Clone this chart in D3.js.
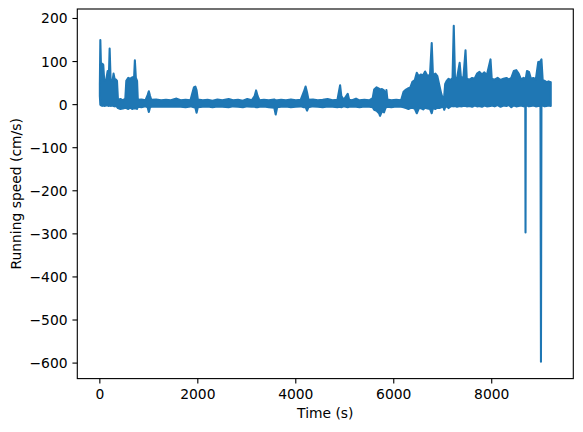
<!DOCTYPE html>
<html><head><meta charset="utf-8">
<script src="https://cdn.jsdelivr.net/npm/d3@7"></script>
<style>
body{margin:0;background:#fff}
svg{display:block}
text{font-family:"DejaVu Sans",sans-serif;font-size:13.89px;fill:#000}
</style>
</head><body>
<svg id="c" width="583" height="432"></svg>
<script>
// Min/max envelope of the running-speed trace
const time = [0,10,30,50,70,90,130,160,185,200,220,260,280,300,330,350,
  370,420,470,520,540,580,620,660,700,715,735,760,775,850,930,975,1000,1025,1050,
  1150,1250,1350,1450,1565,1650,1750,1850,1885,1920,1950,1975,2000,2100,2200,2300,
  2400,2500,2630,2720,2820,2920,3010,3100,3160,3190,3220,3260,3350,3450,3560,3590,
  3620,3700,3800,3900,4000,4100,4165,4200,4230,4260,4350,4450,4550,4650,4750,4850,
  4905,4930,4980,5060,5090,5150,5230,5300,5400,5500,5570,5600,5650,5700,5720,5760,
  5800,5830,5850,5870,5950,6050,6150,6200,6250,6300,6340,6380,6430,6470,6510,6550,
  6600,6640,6690,6740,6775,6800,6850,6890,6930,6970,7010,7030,7050,7080,7120,7160,
  7200,7225,7250,7290,7345,7370,7420,7465,7490,7550,7600,7650,7700,7750,7800,7850,
  7900,7975,8000,8060,8120,8180,8240,8300,8350,8400,8450,8500,8550,8600,8650,8685,
  8690,8695,8720,8760,8800,8850,8900,8950,8995,9005,9015,9040,9080,9120,9160,9205];
const upper = [45,150,60,95,92,55,58,78,70,130,57,56,72,60,58,55,
  11,13,10,14,55,62,60,63,65,103,62,55,11,12,10,22,31,20,11,
  12,10,11,10,14,10,11,10,25,40,42,33,12,10,11,9,
  12,10,13,10,11,9,13,10,20,33,20,10,11,10,12,10,
  10,11,10,12,10,11,30,42,28,11,12,10,11,13,10,11,
  45,20,11,25,11,10,14,10,11,10,15,35,40,37,35,36,
  33,15,34,12,10,11,10,30,35,38,40,53,57,74,66,70,
  68,77,66,70,143,68,72,66,45,25,11,20,48,55,60,57,
  62,183,62,60,97,65,60,126,60,58,62,60,72,76,70,75,
  68,105,60,58,62,57,60,62,58,62,78,80,72,58,62,60,
  60,60,78,76,60,62,58,99,100,103,105,57,55,52,54,52];
const lower = [20,0,-2,-3,-2,-3,-2,-2,-3,-2,-3,-2,-3,-4,-3,-5,
  -8,-10,-9,-7,-8,-10,-7,-10,-8,-9,-8,-10,-5,-6,-4,-6,-17,-6,-5,
  -4,-5,-4,-5,-4,-5,-6,-4,-5,-6,-7,-19,-6,-5,-4,-6,
  -4,-5,-6,-4,-5,-6,-4,-5,-5,-6,-6,-5,-4,-6,-7,-23,
  -6,-5,-4,-6,-5,-4,-6,-5,-14,-6,-4,-5,-6,-4,-5,-6,
  -5,-6,-4,-6,-5,-4,-5,-6,-4,-5,-6,-12,-14,-20,-26,-15,
  -18,-8,-6,-5,-6,-4,-5,-6,-8,-10,-8,-7,-10,-20,-9,-8,
  -11,-7,-9,-10,-20,-8,-10,-7,-8,-6,-5,-12,-6,-4,-8,-4,
  -3,-4,-3,-5,-3,-4,-3,-3,-4,-3,-5,-2,-4,-3,-5,-2,
  -4,-3,-2,-4,-1,-5,-2,-3,-1,-6,-2,-4,-3,-2,-4,-3,
  -297,-3,-2,-4,-3,-2,-4,-3,-2,-597,-3,-2,-4,-3,-2,-3];
const xTicks = [0,2000,4000,6000,8000];
const yTicks = [200,100,0,-100,-200,-300,-400,-500,-600];
const xLabel = "Time (s)";
const yLabel = "Running speed (cm/s)";

const L = 77.3, R = 573.3, T = 9, B = 378.6;
const tMin = d3.min(time), tMax = d3.max(time);
const vMin = d3.min(lower), vMax = d3.max(upper);
const mx = (tMax - tMin) * 0.05, my = (vMax - vMin) * 0.05;
const x = d3.scaleLinear().domain([tMin - mx, tMax + mx]).range([L, R]);
const y = d3.scaleLinear().domain([vMin - my, vMax + my]).range([B, T]);

const svg = d3.select("#c");
const data = time.map((t, i) => ({t, hi: upper[i], lo: lower[i]}));

const area = d3.area().x(d => x(d.t)).y0(d => y(d.lo)).y1(d => y(d.hi));
svg.append("path").datum(data)
  .attr("d", area)
  .attr("fill", "#1f77b4")
  .attr("stroke", "#1f77b4")
  .attr("stroke-width", 2.08)
  .attr("stroke-linejoin", "round");

// axes
const tickLen = 4.86, pad = 4.86;
const xa = svg.append("g");
xTicks.forEach(v => {
  const px = x(v);
  xa.append("line").attr("x1", px).attr("x2", px).attr("y1", B).attr("y2", B + tickLen)
    .attr("stroke", "#000").attr("stroke-width", 1.11);
  xa.append("text").attr("x", px).attr("y", B + tickLen + pad + 10.4)
    .attr("text-anchor", "middle").text(d3.format("d")(v));
});
const ya = svg.append("g");
yTicks.forEach(v => {
  const py = y(v);
  ya.append("line").attr("x1", L - tickLen).attr("x2", L).attr("y1", py).attr("y2", py)
    .attr("stroke", "#000").attr("stroke-width", 1.11);
  ya.append("text").attr("x", L - tickLen - pad).attr("y", py).attr("dy", "0.36em")
    .attr("text-anchor", "end").text(String(v).replace("-", "\u2212"));
});
svg.append("rect").attr("x", L).attr("y", T).attr("width", R - L).attr("height", B - T)
  .attr("fill", "none").attr("stroke", "#000").attr("stroke-width", 1.11);

svg.append("text").attr("x", (L + R) / 2).attr("y", 418).attr("text-anchor", "middle").text(xLabel);
svg.append("text").attr("transform", `translate(20.5,${(T + B) / 2}) rotate(-90)`)
  .attr("text-anchor", "middle").text(yLabel);
</script>
</body></html>
